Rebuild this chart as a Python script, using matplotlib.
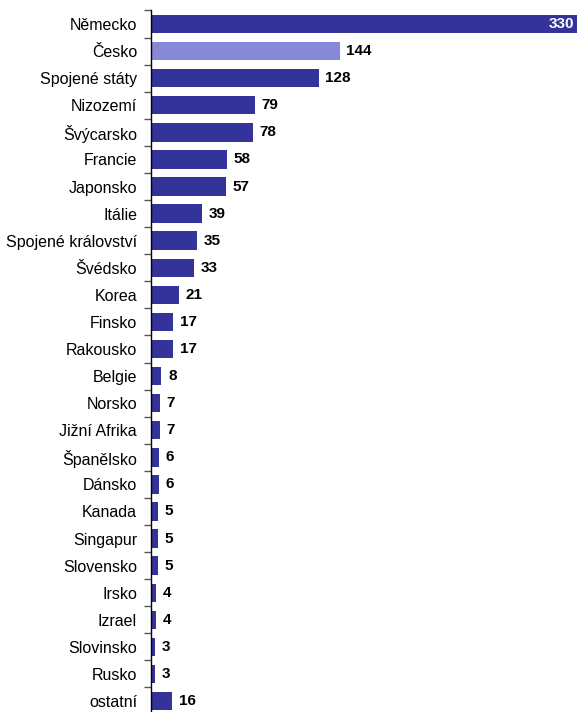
import matplotlib
matplotlib.use("Agg")
import matplotlib.pyplot as plt
from matplotlib.ticker import FixedLocator

categories = ["Německo", "Česko", "Spojené státy", "Nizozemí", "Švýcarsko", "Francie",
              "Japonsko", "Itálie", "Spojené království", "Švédsko", "Korea", "Finsko",
              "Rakousko", "Belgie", "Norsko", "Jižní Afrika", "Španělsko", "Dánsko",
              "Kanada", "Singapur", "Slovensko", "Irsko", "Izrael", "Slovinsko", "Rusko",
              "ostatní"]
values = [330, 144, 128, 79, 78, 58, 57, 39, 35, 33, 21, 17, 17, 8, 7, 7, 6, 6, 5, 5, 5,
          4, 4, 3, 3, 16]
highlight = "Česko"

plt.rcParams['font.family'] = ['Liberation Sans', 'DejaVu Sans']

W, H = 580, 712
fig = plt.figure(figsize=(W / 100, H / 100), dpi=100)
left, right, top = 151, 577, 10.5
step = 27.08
n = len(categories)
bottom_px = top + n * step
ax = fig.add_axes([left / W, 1 - bottom_px / H, (right - left) / W, (bottom_px - top) / H])

dark = "#333399"
light = "#8888D8"
colors = [light if c == highlight else dark for c in categories]
ypos = list(range(n))
ax.barh(ypos, values, height=0.68, color=colors, zorder=2)
ax.set_ylim(n - 0.5, -0.5)
xmax = 325
ax.set_xlim(0, xmax)

for y, v in zip(ypos, values):
    if v > xmax * 0.9:
        ax.text(xmax - 2, y, str(v), ha="right", va="center", color="white",
                fontsize=11, fontweight="bold")
    else:
        ax.text(v + 5, y, str(v), ha="left", va="center", color="black",
                fontsize=11, fontweight="bold")

ax.set_yticks(ypos)
ax.set_yticklabels(categories, fontsize=11.5)
ax.tick_params(axis="y", which="major", length=0, pad=10)
ax.yaxis.set_minor_locator(FixedLocator([i - 0.5 for i in range(n + 1)]))
ax.tick_params(axis="y", which="minor", length=5, width=1, color="#555555")
ax.set_xticks([])
for s in ["top", "right", "bottom"]:
    ax.spines[s].set_visible(False)
ax.spines["left"].set_linewidth(1.0)
ax.spines["left"].set_color("black")

fig.savefig("out.png", dpi=100)
